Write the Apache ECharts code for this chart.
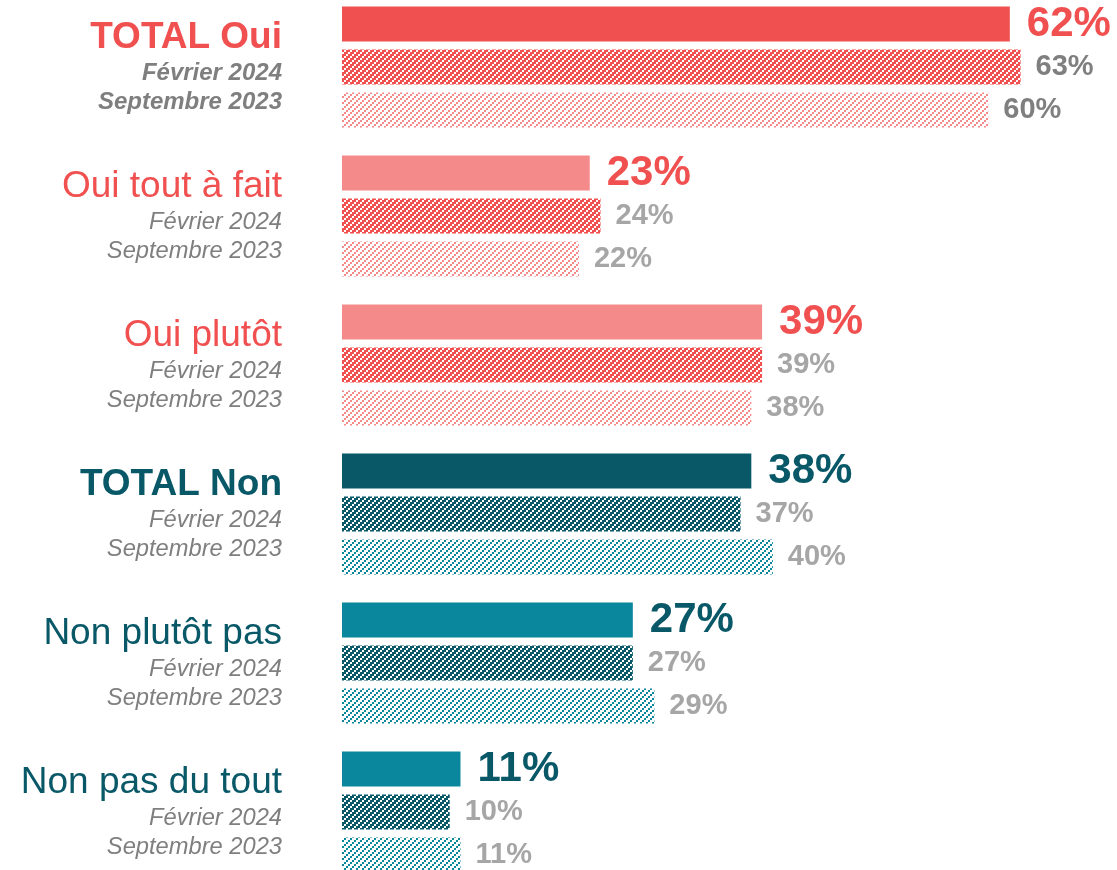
<!DOCTYPE html>
<html>
<head>
<meta charset="utf-8">
<script src="https://cdn.jsdelivr.net/npm/echarts@6/dist/echarts.min.js"></script>
<style>
  html, body { margin: 0; padding: 0; background: #fff; }
  #chart { width: 1117px; height: 870px; }
</style>
</head>
<body>
<div id="chart"></div>
<script>
// --- data ---
var categories = ['TOTAL Oui', 'Oui tout à fait', 'Oui plutôt', 'TOTAL Non', 'Non plutôt pas', 'Non pas du tout'];
var waveLabels = ['Février 2024', 'Septembre 2023'];
var current = [62, 23, 39, 38, 27, 11];
var fev2024 = [63, 24, 39, 37, 27, 10];
var sept2023 = [60, 22, 38, 40, 29, 11];
// group kind: 'ouiT' = total oui, 'oui' = detail oui, 'nonT', 'non'
var kinds = ['ouiT', 'oui', 'oui', 'nonT', 'non', 'non'];

var FONT = "Arial, 'Liberation Sans', sans-serif";
var RED = '#F0504F', PINK = '#F48A8A', DARK = '#085868', TEAL = '#0A879D';

// hatch pattern: "/" stairs made of 2x2 blocks, period 6px
function hatch(color, blocks) {
    var c = document.createElement('canvas');
    c.width = 6; c.height = 6;
    var ctx = c.getContext('2d');
    ctx.fillStyle = '#fff';
    ctx.fillRect(0, 0, 6, 6);
    ctx.fillStyle = color;
    for (var r = 0; r < 3; r++) {
        for (var k = 0; k < blocks; k++) {
            var bx = (3 - r + k) % 3;
            ctx.fillRect(bx * 2, r * 2, 2, 2);
        }
    }
    return { image: c, repeat: 'repeat' };
}

var solidColor = { ouiT: RED, oui: PINK, nonT: DARK, non: TEAL };
var valueColor = { ouiT: RED, oui: RED, nonT: DARK, non: DARK };
var febPattern = { oui: hatch(RED, 2), non: hatch(DARK, 2) };
var sepPattern = { oui: hatch('#F58A8B', 1), non: hatch(TEAL, 1) };

function isOui(i) { return kinds[i].indexOf('oui') === 0; }

function solidData() {
    return current.map(function (v, i) {
        return {
            value: v,
            itemStyle: { color: solidColor[kinds[i]] },
            label: { color: valueColor[kinds[i]], fontSize: 42, distance: 17 }
        };
    });
}
function waveData(arr, patterns) {
    return arr.map(function (v, i) {
        return {
            value: v,
            itemStyle: { color: patterns[isOui(i) ? 'oui' : 'non'] },
            label: { color: i === 0 ? '#7F7F7F' : '#A6A6A6', fontSize: 29, distance: 15 }
        };
    });
}

var labelCfg = {
    show: true,
    position: 'right',
    fontFamily: FONT,
    fontWeight: 'bold',
    formatter: '{c}%'
};

var option = {
    animation: false,
    backgroundColor: '#fff',
    grid: { left: 342, right: 21, top: 67, bottom: 58 },
    xAxis: {
        type: 'value',
        min: 0,
        max: 70,
        show: false
    },
    yAxis: {
        type: 'category',
        inverse: true,
        boundaryGap: false,
        data: categories,
        axisLine: { show: false },
        axisTick: { show: false },
        splitLine: { show: false },
        axisLabel: {
            margin: 60,
            align: 'right',
            formatter: function (value, idx) {
                var main = kinds[idx];
                var sub = idx === 0 ? 'subT' : 'sub';
                return '{' + main + '|' + value + '}\n{' + sub + '|' + waveLabels[0] + '}\n{' + sub + '|' + waveLabels[1] + '}';
            },
            rich: {
                ouiT: { color: RED, fontSize: 37, fontWeight: 'bold', fontFamily: FONT, lineHeight: 42, align: 'right' },
                oui: { color: RED, fontSize: 37, fontFamily: FONT, lineHeight: 42, align: 'right' },
                nonT: { color: DARK, fontSize: 37, fontWeight: 'bold', fontFamily: FONT, lineHeight: 42, align: 'right' },
                non: { color: DARK, fontSize: 37, fontFamily: FONT, lineHeight: 42, align: 'right' },
                subT: { color: '#7F7F7F', fontSize: 24, fontWeight: 'bold', fontStyle: 'italic', fontFamily: FONT, lineHeight: 29, align: 'right' },
                sub: { color: '#7F7F7F', fontSize: 23.7, fontStyle: 'italic', fontFamily: FONT, lineHeight: 29, align: 'right' }
            }
        }
    },
    series: [{
        name: 'Actuel',
        type: 'bar',
        barWidth: 35,
        barGap: '23%',
        data: solidData(),
        label: labelCfg
    }, {
        name: waveLabels[0],
        type: 'bar',
        barWidth: 35,
        barGap: '23%',
        data: waveData(fev2024, febPattern),
        label: labelCfg
    }, {
        name: waveLabels[1],
        type: 'bar',
        barWidth: 35,
        barGap: '23%',
        data: waveData(sept2023, sepPattern),
        label: labelCfg
    }]
};

var myEchart = echarts.init(document.getElementById('chart'));
myEchart.setOption(option);
window.addEventListener('resize', function () {
    myEchart.resize();
});
</script>
</body>
</html>
